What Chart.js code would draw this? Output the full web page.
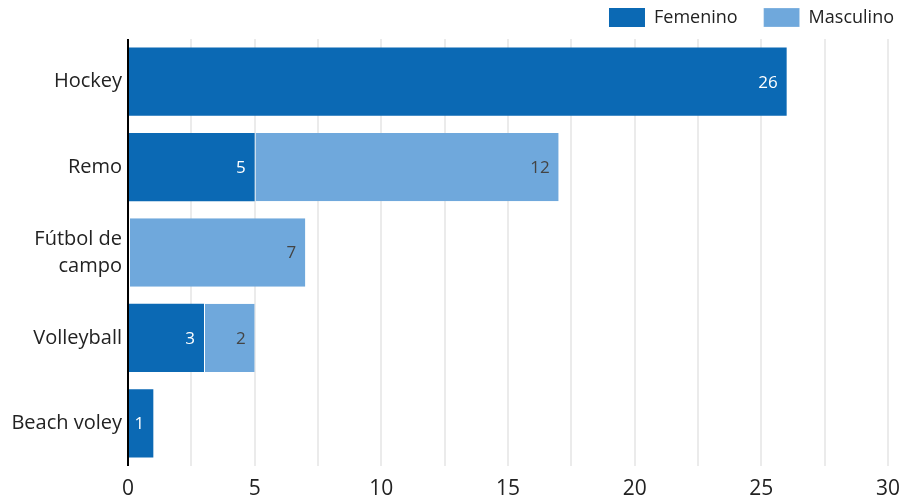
<!DOCTYPE html>
<html><head><meta charset="utf-8">
<script src="https://cdn.jsdelivr.net/npm/chart.js@4"></script>
<style>html,body{margin:0;padding:0;background:#fff}#wrap{width:910px;height:500px}</style>
</head><body><div id="wrap"><canvas id="c"></canvas></div>
<script>
const categories = [["Hockey"], ["Remo"], ["Fútbol de", "campo"], ["Volleyball"], ["Beach voley"]];
const femenino = [26, 5, 0, 3, 1];
const masculino = [0, 12, 7, 2, 0];
const xTicks = [0, 5, 10, 15, 20, 25, 30];

const labelPlugin = {
  id: 'barLabels',
  afterDatasetsDraw(chart) {
    const ctx = chart.ctx;
    ctx.save();
    ctx.font = '17px "Open Sans"';
    ctx.textAlign = 'right';
    ctx.textBaseline = 'middle';
    chart.data.datasets.forEach((ds, di) => {
      const meta = chart.getDatasetMeta(di);
      meta.data.forEach((bar, i) => {
        const v = ds.data[i];
        if (!v) return;
        ctx.fillStyle = di === 0 ? '#ffffff' : '#444444';
        ctx.fillText(String(v), bar.x - 9, bar.y + 1);
      });
    });
    ctx.restore();
  }
};

const axisLine = {
  id: 'axisLine',
  afterDatasetsDraw(chart) {
    const {ctx, chartArea} = chart;
    const x0 = chart.scales.x.getPixelForValue(0);
    ctx.save();
    ctx.strokeStyle = '#000';
    ctx.lineWidth = 2;
    ctx.beginPath();
    ctx.moveTo(x0, chartArea.top);
    ctx.lineTo(x0, chartArea.bottom);
    ctx.stroke();
    ctx.restore();
  }
};

const legendTweak = {
  id: 'legendTweak',
  beforeInit(chart) {
    const lg = chart.legend;
    const origFit = lg.fit;
    lg.fit = function () { origFit.call(this); this.height = 39; };
    const origInner = lg._draw;
    lg._draw = function () {
      this.ctx.save();
      this.ctx.translate(22, -18);
      origInner.call(this);
      this.ctx.restore();
    };
  }
};

new Chart(document.getElementById('c'), {
  type: 'bar',
  data: {
    labels: categories,
    datasets: [
      { label: 'Femenino', data: femenino, backgroundColor: '#0b69b4', borderWidth: 0, categoryPercentage: 0.8, barPercentage: 1 },
      { label: 'Masculino', data: masculino, backgroundColor: '#6fa8dc', borderColor: '#ffffff', borderWidth: {left: 1}, borderSkipped: false, categoryPercentage: 0.8, barPercentage: 1 }
    ]
  },
  options: {
    indexAxis: 'y',
    responsive: true,
    maintainAspectRatio: false,
    animation: false,
    layout: { padding: { left: 0, right: 12, top: 0, bottom: 0 } },
    plugins: {
      legend: {
        position: 'top',
        align: 'end',
        labels: {
          boxWidth: 36, boxHeight: 19, padding: 26,
          color: '#222', font: { family: 'Open Sans', size: 18 }
        }
      },
      tooltip: { enabled: false }
    },
    scales: {
      x: {
        stacked: true,
        min: 0, max: 30,
        grid: { color: '#ebebeb', lineWidth: 2, drawTicks: false },
        border: { display: false },
        afterFit(axis) { axis.height = 34; },
        ticks: {
          stepSize: 2.5,
          padding: 10,
          color: '#222',
          font: { family: 'Open Sans', size: 21 },
          callback: (v) => xTicks.includes(v) ? String(v) : ''
        }
      },
      y: {
        stacked: true,
        grid: { display: false, drawTicks: false },
        border: { display: false },
        afterFit(axis) { axis.width = 128; },
        ticks: { color: '#222', padding: 6, font: { family: 'Open Sans', size: 20, lineHeight: 1.35 } }
      }
    }
  },
  plugins: [labelPlugin, axisLine, legendTweak]
});
</script>
</body></html>
